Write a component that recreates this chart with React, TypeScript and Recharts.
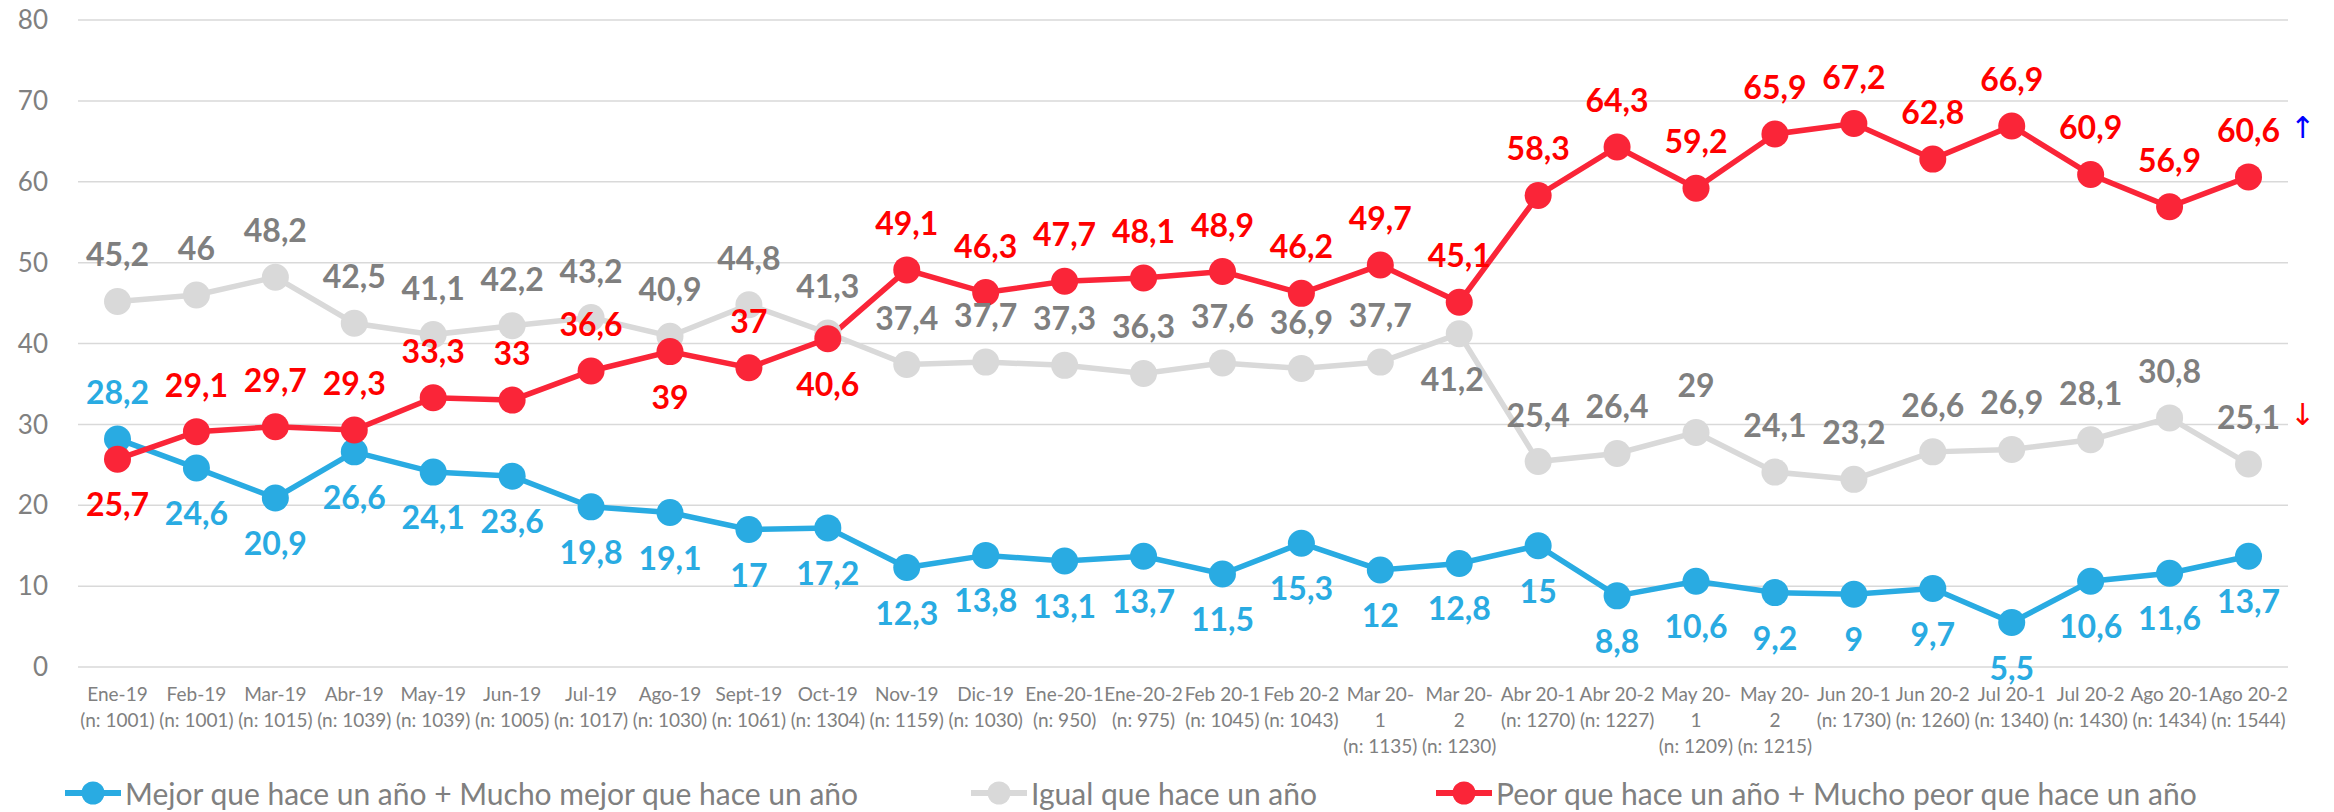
import React from 'react';
import { LineChart, Line, XAxis, YAxis, CartesianGrid, LabelList } from 'recharts';

// Periodos de la encuesta y tamaño de muestra
const categories = [
  'Ene-19', 'Feb-19', 'Mar-19', 'Abr-19', 'May-19', 'Jun-19', 'Jul-19', 'Ago-19', 'Sept-19', 'Oct-19',
  'Nov-19', 'Dic-19', 'Ene-20-1', 'Ene-20-2', 'Feb 20-1', 'Feb 20-2', 'Mar 20-1', 'Mar 20-2',
  'Abr 20-1', 'Abr 20-2', 'May 20-1', 'May 20-2', 'Jun 20-1', 'Jun 20-2', 'Jul 20-1', 'Jul 20-2',
  'Ago 20-1', 'Ago 20-2',
];
const sampleSizes = [
  1001, 1001, 1015, 1039, 1039, 1005, 1017, 1030, 1061, 1304, 1159, 1030, 950, 975, 1045, 1043,
  1135, 1230, 1270, 1227, 1209, 1215, 1730, 1260, 1340, 1430, 1434, 1544,
];
// labels that Excel wrapped onto two lines
const wrappedCategories = ['Mar 20-1', 'Mar 20-2', 'May 20-1', 'May 20-2'];

const mejor = [
  28.2, 24.6, 20.9, 26.6, 24.1, 23.6, 19.8, 19.1, 17, 17.2, 12.3, 13.8, 13.1, 13.7, 11.5, 15.3,
  12, 12.8, 15, 8.8, 10.6, 9.2, 9, 9.7, 5.5, 10.6, 11.6, 13.7,
];
const igual = [
  45.2, 46, 48.2, 42.5, 41.1, 42.2, 43.2, 40.9, 44.8, 41.3, 37.4, 37.7, 37.3, 36.3, 37.6, 36.9,
  37.7, 41.2, 25.4, 26.4, 29, 24.1, 23.2, 26.6, 26.9, 28.1, 30.8, 25.1,
];
const peor = [
  25.7, 29.1, 29.7, 29.3, 33.3, 33, 36.6, 39, 37, 40.6, 49.1, 46.3, 47.7, 48.1, 48.9, 46.2,
  49.7, 45.1, 58.3, 64.3, 59.2, 65.9, 67.2, 62.8, 66.9, 60.9, 56.9, 60.6,
];

const yTicks = [0, 10, 20, 30, 40, 50, 60, 70, 80];

const SERIES = [
  { key: 'mejor', name: 'Mejor que hace un año + Mucho mejor que hace un año', color: '#29ABE2', labelColor: '#29ABE2', legendLeft: 64, below: [1, 2, 3, 4, 5, 6, 7, 8, 9, 10, 11, 12, 13, 14, 15, 16, 17, 18, 19, 20, 21, 22, 23, 24, 25, 26, 27] },
  { key: 'igual', name: 'Igual que hace un año', color: '#D9D9D9', labelColor: '#7F7F7F', legendLeft: 970, below: [17], arrow: { char: '↓', color: '#FF0000' } },
  { key: 'peor', name: 'Peor que hace un año + Mucho peor que hace un año', color: '#FA2538', labelColor: '#FF0000', legendLeft: 1435, below: [0, 7, 9], arrow: { char: '↑', color: '#0000FF' } },
];

const chartData = categories.map((c, i) => ({
  label: c,
  n: sampleSizes[i],
  mejor: mejor[i],
  igual: igual[i],
  peor: peor[i],
}));

const FONT = 'Lato, "Open Sans", sans-serif';
const fmt = (v: number) => String(v).replace('.', ',');

const XTick = ({ x, y, payload }: any) => {
  const idx = payload.index;
  const name = categories[idx];
  const lines = wrappedCategories.includes(name)
    ? [name.slice(0, name.lastIndexOf('-') + 1), name.slice(name.lastIndexOf('-') + 1)]
    : [name];
  lines.push(`(n: ${sampleSizes[idx]})`);
  return (
    <text x={x} y={y} textAnchor="middle" fill="#808080" fontSize={19} fontFamily={FONT}>
      {lines.map((l, i) => (
        <tspan key={i} x={x} dy={i === 0 ? 34 : 26}>{l}</tspan>
      ))}
    </text>
  );
};

const makeLabel = (s: any) => (props: any) => {
  const { x, y, value, index } = props;
  if (value == null) return null;
  const below = s.below.includes(index);
  // the 41,2 label sits a bit to the left in the original
  const tx = s.key === 'igual' && below ? x - 7 : x;
  const ty = below ? y + 57 : y - 35;
  return (
    <g>
      <text x={tx} y={ty} textAnchor="middle" fill={s.labelColor} fontSize={32} fontWeight={700} fontFamily={FONT}>
        {fmt(value)}
      </text>
      {s.arrow && index === categories.length - 1 && (
        <text x={x + 54} y={ty - 4} textAnchor="middle" fill={s.arrow.color} fontSize={30} fontFamily="DejaVu Sans">
          {s.arrow.char}
        </text>
      )}
    </g>
  );
};

export default function App() {
  return (
    <div style={{ position: 'absolute', left: 0, top: 0, width: 2334, height: 812, background: '#fff', fontFamily: FONT }}>
      <LineChart width={2334} height={812} data={chartData} margin={{ top: 20, right: 46, bottom: 45, left: 0 }}>
        <CartesianGrid horizontal vertical={false} stroke="#D9D9D9" strokeWidth={1.5} />
        <XAxis
          dataKey="label"
          interval={0}
          height={100}
          tickLine={false}
          axisLine={false}
          tickSize={0}
          tickMargin={0}
          padding={{ left: 39.5, right: 39.5 }}
          tick={<XTick />}
        />
        <YAxis
          domain={[0, 80]}
          ticks={yTicks}
          width={78}
          tickLine={false}
          axisLine={false}
          tickSize={0}
          tickMargin={30}
          tick={{ fill: '#808080', fontSize: 26, fontFamily: FONT }}
        />
        {SERIES.map((s) => (
          <Line
            key={s.key}
            dataKey={s.key}
            name={s.name}
            stroke={s.color}
            strokeWidth={5.5}
            dot={{ r: 13.5, fill: s.color, stroke: s.color, strokeWidth: 0 }}
            activeDot={false}
            isAnimationActive={false}
          />
        ))}
        {/* labels on top of every line, like Excel */}
        {SERIES.map((s) => (
          <Line
            key={`${s.key}-labels`}
            dataKey={s.key}
            stroke="none"
            dot={false}
            activeDot={false}
            legendType="none"
            isAnimationActive={false}
          >
            <LabelList dataKey={s.key} content={makeLabel(s)} />
          </Line>
        ))}
      </LineChart>

      {/* Legend */}
      {SERIES.map((s) => (
        <div
          key={s.key}
          style={{ position: 'absolute', left: s.legendLeft, top: 775, height: 36, display: 'flex', alignItems: 'center' }}
        >
          <svg width={58} height={26}>
            <line x1={1} y1={13} x2={57} y2={13} stroke={s.color} strokeWidth={6} />
            <circle cx={29} cy={13} r={11.5} fill={s.color} />
          </svg>
          <span style={{ marginLeft: 3, fontSize: 30, color: '#808080', whiteSpace: 'nowrap' }}>{s.name}</span>
        </div>
      ))}
    </div>
  );
}
